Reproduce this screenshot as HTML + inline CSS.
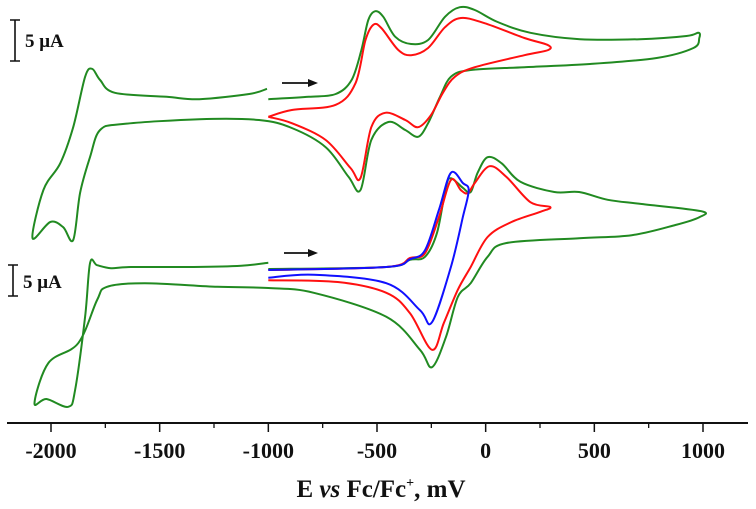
<!DOCTYPE html>
<html><head><meta charset="utf-8"><style>
html,body{margin:0;padding:0;background:#fff}
svg{display:block}
text{font-family:"Liberation Serif",serif;font-weight:bold;fill:#111}
</style></head><body>
<svg id="chart" width="756" height="509" viewBox="0 0 756 509">
<g id="axis"></g>
<g id="curves"></g>
<g>
<path d="M10 20H20M15 20V61M10 61H20" stroke="#111" stroke-width="1.6" fill="none"/>
<text x="25" y="47" font-size="19">5 μA</text></g>
<g>
<path d="M8 265H18M13 265V296M8 296H18" stroke="#111" stroke-width="1.6" fill="none"/>
<text x="23" y="288" font-size="19">5 μA</text></g>
<g><path d="M282 83H312" stroke="#111" stroke-width="1.8"/><path d="M318 83L308 79L308 87Z" fill="#111"/></g>
<g><path d="M284 253H312" stroke="#111" stroke-width="1.8"/><path d="M318 253L308 249L308 257Z" fill="#111"/></g>
<text x="381" y="497" font-size="25" text-anchor="middle">E <tspan font-style="italic">vs</tspan> Fc/Fc<tspan font-size="14" dy="-10">+</tspan><tspan dy="10">, mV</tspan></text>
</svg>
<script>
const xTicks=[-2000,-1500,-1000,-500,0,500,1000];
const xMinorTicks=[-1750,-1250,-750,-250,250,750];
// Panel A (top): potential mV / current uA
const topGreenE=[-1000,-814,-690,-617,-572,-540,-508,-471,-416,-343,-265,-187,-119,-50,55,206,434,709,924,979,983,956,787,480,178,-69,-160,-210,-265,-311,-370,-448,-526,-576,-631,-736,-892,-1043,-1317,-1669,-1774,-1820,-1866,-1898,-1944,-2003,-2085,-2035,-1957,-1898,-1843,-1811,-1774,-1706,-1468,-1317,-1088,-1006];
const topGreenI=[0.1,0.4,0.75,2.5,6.25,10,11.1,10.4,7.9,7,7.5,10.4,11.6,11.25,9.75,8.4,7.6,7.6,8,8.4,7.75,6.5,5.25,4.5,4.1,3.75,2.9,0.4,-2.9,-4.6,-3.75,-2.75,-5,-11.25,-9.6,-5.9,-3.5,-2.5,-2.4,-3,-3.75,-7.1,-11.6,-17.5,-15.9,-15.25,-17.25,-11.25,-7.9,-3.4,2.9,3.9,2.5,0.9,0.4,0.1,0.75,1.4];
const topRedE=[-1000,-892,-690,-599,-553,-517,-480,-402,-343,-265,-187,-114,-5,178,284,288,178,-50,-142,-197,-252,-311,-370,-462,-526,-576,-622,-736,-892,-1000];
const topRedI=[-2.1,-1.25,-0.6,2.1,7.5,9.4,9,6.25,5.6,6.5,9.1,10.25,9.6,7.75,6.9,6.25,5.6,4.1,2.9,0.9,-1.9,-3.4,-2.5,-1.6,-3.4,-9.75,-8.5,-5,-2.9,-2.1];
// Panel B (bottom)
const botGreenE=[-1000,-457,-348,-279,-224,-183,-160,-105,-69,-37,9,73,160,316,430,562,718,992,983,873,672,430,96,9,-69,-128,-183,-247,-302,-457,-791,-1000,-1235,-1569,-1742,-1788,-1875,-2012,-2076,-2021,-1921,-1889,-1843,-1820,-1788,-1724,-1633,-1344,-1125,-1000];
const botGreenI=[0.17,0.5,1.7,2.2,6.2,13.8,15.3,13.7,13,16.2,18.8,17.8,14.7,13,13,11.7,11,9.8,8.8,7.5,5.8,5.3,4.5,2.2,-2.2,-4.5,-11.2,-16.2,-13.3,-7.8,-3.8,-3,-2.8,-2.2,-2.8,-5,-12.2,-15.5,-22.2,-21.5,-22.8,-20,-7.8,1.2,0.8,0.3,0.5,0.5,0.7,1.2];
const botRedE=[-1000,-681,-457,-348,-247,-192,-128,-69,9,119,252,297,206,96,18,-50,-82,-114,-160,-215,-279,-348,-457,-1000];
const botRedI=[-1.7,-2,-3.8,-7.2,-13.3,-8.8,-3.3,0.5,5.5,8,9.7,10.5,11.3,15.5,17.3,14.5,12.8,13.3,15,8.8,2.8,2,0.5,0];
const botBlueE=[-1000,-457,-348,-279,-215,-160,-105,-78,-105,-160,-247,-302,-457,-791,-1000];
const botBlueI=[0,0.5,1.8,3.3,10,16.2,14.5,13.3,8.8,0.5,-8.7,-6.7,-2.2,-0.8,-1.3];

const NS='http://www.w3.org/2000/svg';
function xs(e){return 51+(e+2000)*652/3000;}
function yTop(i){return 100-i*8;}
function yBot(i){return 270-i*6;}
function pathFrom(E,I,yf){
  const p=E.map((e,k)=>[xs(e),yf(I[k])]);
  let d='M'+p[0][0].toFixed(1)+' '+p[0][1].toFixed(1);
  for(let k=0;k<p.length-1;k++){
    const p0=p[k-1]||p[k],p1=p[k],p2=p[k+1],p3=p[k+2]||p2;
    const c1=[p1[0]+(p2[0]-p0[0])/6,p1[1]+(p2[1]-p0[1])/6];
    const c2=[p2[0]-(p3[0]-p1[0])/6,p2[1]-(p3[1]-p1[1])/6];
    d+='C'+c1.map(v=>v.toFixed(1)).join(' ')+' '+c2.map(v=>v.toFixed(1)).join(' ')+' '+p2[0].toFixed(1)+' '+p2[1].toFixed(1);
  }
  return d;
}
const cg=document.getElementById('curves');
function addCurve(E,I,yf,color,name){
  const el=document.createElementNS(NS,'path');
  el.setAttribute('d',pathFrom(E,I,yf));
  el.setAttribute('fill','none');el.setAttribute('stroke',color);el.setAttribute('stroke-width','2');
  el.setAttribute('stroke-linejoin','round');
  
  
  cg.appendChild(el);
}
addCurve(topGreenE,topGreenI,yTop,'#218a21','top-green-cv');
addCurve(topRedE,topRedI,yTop,'#ff1010','top-red-cv');
addCurve(botGreenE,botGreenI,yBot,'#218a21','bottom-green-cv');
addCurve(botRedE,botRedI,yBot,'#ff1010','bottom-red-cv');
addCurve(botBlueE,botBlueI,yBot,'#1010ff','bottom-blue-cv');

const ag=document.getElementById('axis');
const line=document.createElementNS(NS,'line');
line.setAttribute('x1',7);line.setAttribute('x2',748);line.setAttribute('y1',423);line.setAttribute('y2',423);
line.setAttribute('stroke','#111');line.setAttribute('stroke-width','2');


ag.appendChild(line);
xTicks.forEach(t=>{
  const tk=document.createElementNS(NS,'line');
  tk.setAttribute('x1',xs(t));tk.setAttribute('x2',xs(t));tk.setAttribute('y1',423);tk.setAttribute('y2',432);
  tk.setAttribute('stroke','#111');tk.setAttribute('stroke-width','1.5');
  
  
  ag.appendChild(tk);
  const tx=document.createElementNS(NS,'text');
  tx.setAttribute('x',xs(t));tx.setAttribute('y',458);tx.setAttribute('font-size','22');tx.setAttribute('text-anchor','middle');
  tx.textContent=String(t);
  
  
  ag.appendChild(tx);
});
xMinorTicks.forEach(t=>{
  const tk=document.createElementNS(NS,'line');
  tk.setAttribute('x1',xs(t));tk.setAttribute('x2',xs(t));tk.setAttribute('y1',423);tk.setAttribute('y2',428);
  tk.setAttribute('stroke','#111');tk.setAttribute('stroke-width','1.3');
  
  
  ag.appendChild(tk);
});
</script>
</body></html>
